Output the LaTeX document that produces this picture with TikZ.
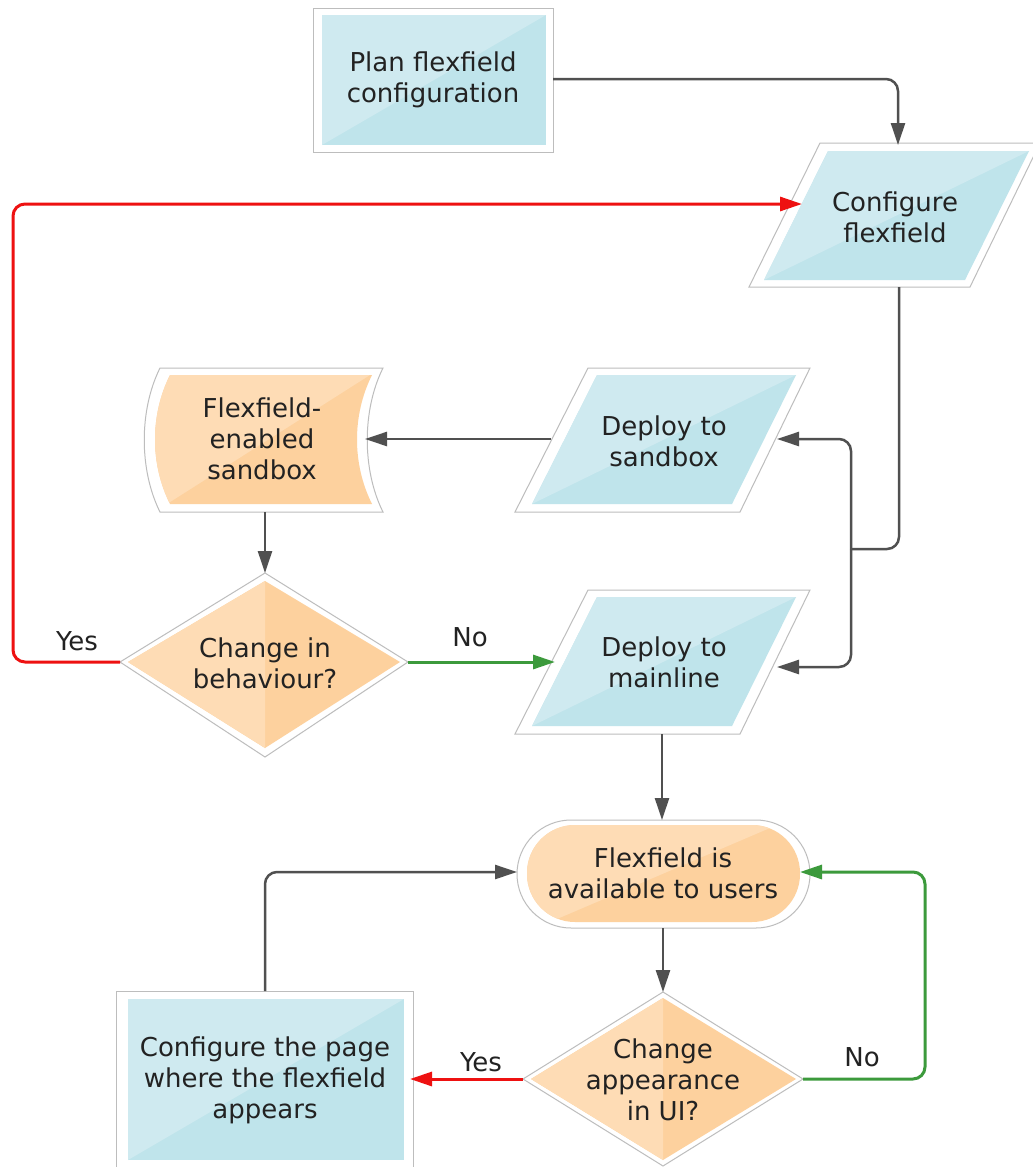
\documentclass[tikz,border=0pt]{standalone}
\usepackage{fontspec}
\setmainfont{DejaVu Sans}
\usetikzlibrary{arrows.meta}
\definecolor{bluelt}{HTML}{CFEAF0}
\definecolor{bluedk}{HTML}{BFE4EB}
\definecolor{orlt}{HTML}{FEDCB5}
\definecolor{ordk}{HTML}{FDD19E}
\definecolor{rim}{HTML}{BDBDBD}
\definecolor{lineg}{HTML}{505050}
\definecolor{redl}{HTML}{EE1111}
\definecolor{greenl}{HTML}{3C9A3C}
\definecolor{txt}{HTML}{222222}
\tikzset{
  rimshape/.style={fill=white, draw=rim, line width=1pt},
  lbl/.style={font=\fontsize{26}{31}\selectfont, text=txt, align=center, inner sep=0pt},
  tip/.style={-{Triangle[length=22pt,width=14pt]}},
  connbase/.style={line width=2.5pt, rounded corners=12pt},
  conn/.style={connbase, draw=lineg, tip},
  connplain/.style={connbase, draw=lineg},
  connred/.style={connbase, draw=redl, line width=3pt, tip},
  conngreen/.style={connbase, draw=greenl, line width=3pt, tip}
}
\begin{document}
\begin{tikzpicture}[x=1pt,y=-1pt]
\useasboundingbox (0,0) rectangle (1033,1167);
\fill[white] (0,0) rectangle (1033,1167);

% Plan flexfield configuration
\draw[rimshape] (313,8) rectangle (553,152);
\fill[bluedk] (322,15) rectangle (546,145);
\fill[bluelt] (322,15) -- (546,15) -- (322,145) -- cycle;

% Configure flexfield
\draw[rimshape] (820,143) -- (1040,143) -- (970,287) -- (749,287) -- cycle;
\fill[bluedk] (828,151) -- (1029,151) -- (965,280) -- (764,280) -- cycle;
\fill[bluelt] (828,151) -- (1029,151) -- (764,280) -- cycle;

% Deploy to sandbox
\draw[rimshape] (588,368) -- (810,368) -- (740,512) -- (515,512) -- cycle;
\fill[bluedk] (597,375) -- (796,375) -- (732,504) -- (532,504) -- cycle;
\fill[bluelt] (597,375) -- (796,375) -- (532,504) -- cycle;

% Deploy to mainline
\draw[rimshape] (588,590) -- (810,590) -- (740,734) -- (515,734) -- cycle;
\fill[bluedk] (597,597) -- (796,597) -- (732,726) -- (532,726) -- cycle;
\fill[bluelt] (597,597) -- (796,597) -- (532,726) -- cycle;

% Flexfield-enabled sandbox (stored data)
\draw[rimshape] (160,368) -- (383,368) .. controls (362,410) and (362,470) .. (383,512)
  -- (160,512) .. controls (139,470) and (139,410) .. (160,368) -- cycle;
\fill[ordk] (170,375) -- (372,375) .. controls (352,415) and (352,464) .. (372,504)
  -- (170,504) .. controls (150,464) and (150,415) .. (170,375) -- cycle;
\begin{scope}
\clip (170,375) -- (372,375) .. controls (352,415) and (352,464) .. (372,504)
  -- (170,504) .. controls (150,464) and (150,415) .. (170,375) -- cycle;
\fill[orlt] (140,375) -- (370,375) -- (167,504) -- (140,504) -- cycle;
\end{scope}

% Change in behaviour?
\draw[rimshape] (265,573) -- (408,662) -- (265,757) -- (120,662) -- cycle;
\fill[ordk] (265,581) -- (400,662) -- (265,748) -- (128,662) -- cycle;
\fill[orlt] (265,581) -- (265,748) -- (128,662) -- cycle;

% Flexfield is available to users
\draw[rimshape, rounded corners=54pt] (517,820) rectangle (810,928);
\fill[ordk, rounded corners=48pt] (527,825) rectangle (800,922);
\begin{scope}
\clip[rounded corners=48pt] (527,825) rectangle (800,922);
\fill[orlt] (500,825) -- (777,825) -- (550,922) -- (500,922) -- cycle;
\end{scope}

% Change appearance in UI?
\draw[rimshape] (663,992) -- (803,1079) -- (663,1166) -- (523,1079) -- cycle;
\fill[ordk] (663,998) -- (796,1079) -- (663,1160) -- (531,1079) -- cycle;
\fill[orlt] (663,998) -- (663,1160) -- (531,1079) -- cycle;

% Configure the page
\draw[rimshape] (116,991) rectangle (413,1178);
\fill[bluedk] (128,999) rectangle (404,1160);
\fill[bluelt] (128,999) -- (404,999) -- (128,1160) -- cycle;

% texts
\node[lbl] (plan) at (433,80) {Plan flexfield\\configuration};
\node[lbl] (cfg) at (895,217) {Configure\\flexfield};
\node[lbl] (sbx) at (664,441) {Deploy to\\sandbox};
\node[lbl] (mln) at (664,662) {Deploy to\\mainline};
\node[lbl] (ffs) at (262,439) {Flexfield-\\enabled\\sandbox};
\node[lbl] (chb) at (265,663) {Change in\\behaviour?};
\node[lbl] (avl) at (663,873) {Flexfield is\\available to users};
\node[lbl] (cha) at (663,1080) {Change\\appearance\\in UI?};
\node[lbl] (pge) at (265,1080) {Configure the page\\where the flexfield\\appears};

\node[lbl] (yes1) at (77,641) {Yes};
\node[lbl] (no1) at (470,637) {No};
\node[lbl] (yes2) at (481,1062) {Yes};
\node[lbl] (no2) at (862,1057) {No};

% connection points
\coordinate (planR) at (553,79);
\coordinate (cfgT) at (898,145);
\coordinate (cfgB) at (899,287);
\coordinate (jn) at (851,549);
\coordinate (sbR) at (777,439);
\coordinate (mlR) at (777,667);
\coordinate (sbL) at (551,439);
\coordinate (stR) at (365,439);
\coordinate (stB) at (265,512);
\coordinate (d1T) at (265,573);
\coordinate (d1L) at (120,662);
\coordinate (d1R) at (408,662);
\coordinate (mlL) at (555,662);
\coordinate (rc) at (13,204);
\coordinate (cfgL) at (802,204);
\coordinate (mlB) at (662,734);
\coordinate (avT) at (662,820);
\coordinate (avB) at (663,928);
\coordinate (d2T) at (663,992);
\coordinate (d2L) at (523,1079);
\coordinate (pgR) at (410,1079);
\coordinate (d2R) at (803,1079);
\coordinate (gc) at (925,872);
\coordinate (avR) at (800,872);
\coordinate (pgT) at (265,991);
\coordinate (avL) at (517,872);

% connectors
\draw[conn] (planR) -| (cfgT);
\draw[connplain] (cfgB) |- (jn);
\draw[conn] (jn) |- (sbR);
\draw[conn] (jn) |- (mlR);
\draw[conn] (sbL) -- (stR);
\draw[conn] (stB) -- (d1T);
\draw[connred] (d1L) -| (rc) -- (cfgL);
\draw[conngreen] (d1R) -- (mlL);
\draw[conn] (mlB) -- (avT);
\draw[conn] (avB) -- (d2T);
\draw[connred] (d2L) -- (pgR);
\draw[conngreen] (d2R) -| (gc) -- (avR);
\draw[conn] (pgT) |- (avL);
\end{tikzpicture}
\end{document}
